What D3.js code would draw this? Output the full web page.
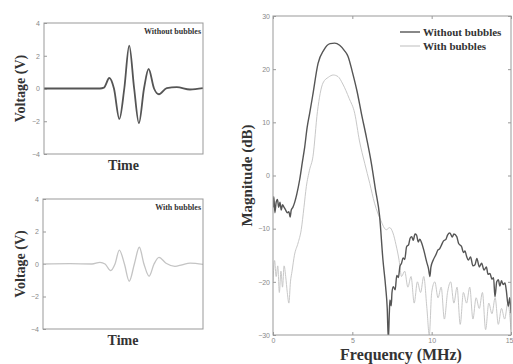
<!DOCTYPE html>
<html>
<head>
<meta charset="utf-8">
<script src="https://cdn.jsdelivr.net/npm/d3@7.9.0/dist/d3.min.js"></script>
<style>
  body { margin: 0; background: #fff; }
  svg { display: block; }
  .axis text { font: 7px 'Liberation Sans', sans-serif; fill: #888; }
  .axis path { display: none; }
  .axis line { stroke: #999; }
  .lbl { font-family: 'Liberation Serif', serif; font-weight: bold; fill: #333; }
</style>
</head>
<body>
<svg id="fig" width="513" height="364"></svg>
<script>
// time-domain pulses (time in arbitrary units 0..100, voltage in V)
const timeTop = [0, 16.4, 35.2, 37.7, 41.1, 44.0, 47.4, 50.5, 53.6, 56.7, 59.7, 62.9, 65.8, 69.2, 72.3, 77.2, 83.5, 91.8, 100];
const voltTop = [0, 0, 0, 0.05, 0.64, 0, -1.86, 0, 2.62, 0, -2.12, 0, 1.19, 0, -0.35, 0.02, 0.08, -0.06, 0.02];

const timeBottom = [0, 16.9, 30.6, 35.6, 38.8, 42.3, 45.0, 47.7, 50.9, 53.9, 57.1, 60.2, 63.1, 66.3, 69.4, 72.5, 76.9, 82.5, 86.9, 91.9, 100];
const voltBottom = [0, 0.02, 0, 0.1, 0, -0.41, 0, 0.86, 0, -1.06, 0, 1.03, 0, -0.75, 0, 0.41, 0.05, -0.14, -0.05, 0.05, -0.02];

const voltTicks = [-4, -2, 0, 2, 4];

// spectra (MHz, dB)
const freqNo = [0, 0.05, 0.12, 0.2, 0.28, 0.36, 0.44, 0.52, 0.6, 0.7, 0.8, 0.9, 1.0, 1.08, 1.15, 1.25, 1.37, 1.5, 1.68, 1.85,
  2.0, 2.15, 2.31, 2.5, 2.84, 3.2, 3.6, 3.89, 4.2, 4.5, 4.73, 5.0, 5.3, 5.57, 5.9, 6.2, 6.45, 6.72, 6.93, 7.1,
  7.2, 7.27, 7.33, 7.37, 7.45, 7.5, 7.58, 7.7, 7.8, 7.9, 8.0, 8.1, 8.2, 8.3, 8.42, 8.55, 8.64, 8.74, 8.84, 8.95,
  9.05, 9.15, 9.25, 9.37, 9.5, 9.6, 9.68, 9.8, 9.89, 9.95, 10.1, 10.25, 10.4, 10.5, 10.63, 10.75, 10.9, 11.0, 11.15, 11.3,
  11.4, 11.58, 11.7, 11.89, 12.0, 12.1, 12.2, 12.31, 12.45, 12.6, 12.73, 12.85, 13.0, 13.15, 13.3, 13.45, 13.55, 13.67, 13.8, 13.9,
  13.99, 14.1, 14.2, 14.3, 14.4, 14.5, 14.62, 14.7, 14.83, 14.92, 15.0];
const magNo = [-6, -4, -7, -5, -4.5, -6, -5, -6.5, -5.5, -6, -6.5, -7, -6.8, -7.8, -6.5, -6, -5, -3.5, -0.8, 2.5,
  5.4, 9, 11.7, 15, 21.1, 23.6, 24.8, 24.9, 24.5, 23.5, 22.4, 19.5, 15.8, 11.7, 7, 2.3, -2.5, -7.7, -15.9, -21,
  -25, -31, -26, -23.4, -24.5, -22, -20.9, -21.5, -18.8, -19.2, -17.1, -16.5, -15.5, -15.8, -13.4, -13, -11.8, -11.5, -12.2, -11,
  -11.2, -12.5, -12, -12.7, -14, -15.2, -16.2, -17.5, -19, -17.3, -15.9, -15, -14, -13.8, -13, -12.3, -12, -11.2, -10.8, -11.6,
  -11, -11.5, -12.8, -13.4, -14.5, -14.2, -15.2, -15.9, -15.3, -17, -16.8, -15.6, -17.2, -16.5, -17.8, -17.2, -18.6, -18.4, -19.5, -19.2,
  -22.8, -20, -19.6, -20.8, -19.8, -20.5, -20.2, -21.5, -24.6, -23, -25.9];

const freqWith = [0, 0.1, 0.2, 0.3, 0.4, 0.5, 0.6, 0.7, 0.8, 0.9, 1.0, 1.1, 1.2, 1.35, 1.58, 1.78, 1.95, 2.1, 2.3, 2.52,
  2.8, 3.15, 3.5, 3.8, 4.1, 4.4, 4.8, 5.15, 5.45, 5.78, 6.1, 6.4, 6.8, 7.14, 7.35, 7.56, 7.75, 7.95, 8.1, 8.3,
  8.5, 8.7, 8.9, 9.1, 9.3, 9.5, 9.7, 9.85, 10.0, 10.2, 10.4, 10.6, 10.8, 11.0, 11.2, 11.4, 11.6, 11.8, 12.0, 12.2,
  12.4, 12.6, 12.8, 13.0, 13.2, 13.4, 13.6, 13.8, 14.0, 14.2, 14.4, 14.6, 14.8, 15.0];
const magWith = [-20, -16, -19, -17, -22, -18, -21, -17, -19, -22, -24, -20, -18, -15, -12.7, -10.2, -6, -2.1, 1, 3.6,
  12, 17.4, 18.5, 18.9, 18.6, 17.2, 14.5, 11.7, 6.5, 2.3, -1.5, -5.2, -8.5, -10.2, -9.8, -10.8, -13, -16, -19, -18,
  -21, -19, -24, -20, -22, -19, -25, -30, -22, -20, -23, -21, -27, -22, -20, -24, -21, -28, -22, -24,
  -21, -27, -23, -25, -22, -29, -24, -26, -23, -28, -25, -27, -24, -29];

const freqTicks = [0, 5, 10, 15];
const magTicks = [-30, -20, -10, 0, 10, 20, 30];

const svg = d3.select('#fig');
const frameColor = '#999';

function frame(g, x0, x1, y0, y1) {
  g.append('rect')
    .attr('x', x0).attr('y', y0)
    .attr('width', x1 - x0).attr('height', y1 - y0)
    .attr('fill', 'none').attr('stroke', frameColor);
}

// --- left panels ---
function pulsePanel(times, volts, box, color, width, title) {
  const g = svg.append('g');
  const x = d3.scaleLinear().domain([0, 100]).range([box.x0, box.x1]);
  const y = d3.scaleLinear().domain([-4, 4]).range([box.y1, box.y0]);

  g.append('g').attr('class', 'axis')
    .attr('transform', `translate(${box.x0},0)`)
    .call(d3.axisLeft(y).tickValues(voltTicks).tickSize(-3).tickPadding(4));

  const line = d3.line()
    .x((d) => x(d[0]))
    .y((d) => y(d[1]))
    .curve(d3.curveMonotoneX);
  g.append('path')
    .attr('d', line(d3.zip(times, volts)))
    .attr('fill', 'none')
    .attr('stroke', color)
    .attr('stroke-width', width);

  frame(g, box.x0, box.x1, box.y0, box.y1);

  g.append('text').attr('class', 'lbl')
    .attr('x', box.x1 - 2).attr('y', box.y0 + 11)
    .attr('text-anchor', 'end').attr('font-size', 8)
    .text(title);

  g.append('text').attr('class', 'lbl')
    .attr('x', (box.x0 + box.x1) / 2).attr('y', box.y1 + 16)
    .attr('text-anchor', 'middle').attr('font-size', 14)
    .text('Time');

  g.append('text').attr('class', 'lbl')
    .attr('transform', `translate(25,${(box.y0 + box.y1) / 2}) rotate(-90)`)
    .attr('text-anchor', 'middle').attr('font-size', 14)
    .text('Voltage (V)');
}

pulsePanel(timeTop, voltTop, { x0: 44, x1: 203, y0: 23, y1: 154 }, '#555', 1.8, 'Without bubbles');
pulsePanel(timeBottom, voltBottom, { x0: 43, x1: 203, y0: 199, y1: 329 }, '#c4c4c4', 1.3, 'With bubbles');

// --- spectrum panel ---
const box = { x0: 273, x1: 511, y0: 16, y1: 335 };
const fx = d3.scaleLinear().domain([0, 15]).range([box.x0, box.x1]);
const my = d3.scaleLinear().domain([-30, 30]).range([box.y1, box.y0]);
const sp = svg.append('g');

sp.append('clipPath').attr('id', 'spclip')
  .append('rect')
  .attr('x', box.x0).attr('y', box.y0)
  .attr('width', box.x1 - box.x0).attr('height', box.y1 - box.y0);

sp.append('g').attr('class', 'axis')
  .attr('transform', `translate(${box.x0},0)`)
  .call(d3.axisLeft(my).tickValues(magTicks).tickSize(-3).tickPadding(3));
sp.append('g').attr('class', 'axis')
  .attr('transform', `translate(${box.x1},0)`)
  .call(d3.axisRight(my).tickValues(magTicks).tickSize(-3).tickFormat(''));
const xAxis = sp.append('g').attr('class', 'axis')
  .attr('transform', `translate(0,${box.y1})`)
  .call(d3.axisBottom(fx).tickValues(freqTicks).tickSize(-3).tickPadding(3));
// keep the last label inside the page
xAxis.selectAll('.tick text').filter((d) => d === 15).attr('text-anchor', 'end').attr('dx', 2);
sp.append('g').attr('class', 'axis')
  .attr('transform', `translate(0,${box.y0})`)
  .call(d3.axisTop(fx).tickValues(freqTicks).tickSize(-3).tickFormat(''));

const specLine = d3.line()
  .x((d) => fx(d[0]))
  .y((d) => my(d[1]))
  .curve(d3.curveMonotoneX);

sp.append('path')
  .attr('clip-path', 'url(#spclip)')
  .attr('d', specLine(d3.zip(freqWith, magWith)))
  .attr('fill', 'none')
  .attr('stroke', '#c8c8c8')
  .attr('stroke-width', 1);

sp.append('path')
  .attr('clip-path', 'url(#spclip)')
  .attr('d', specLine(d3.zip(freqNo, magNo)))
  .attr('fill', 'none')
  .attr('stroke', '#555')
  .attr('stroke-width', 1.4);

frame(sp, box.x0, box.x1, box.y0, box.y1);

// legend
const legend = [
  { label: 'Without bubbles', color: '#555', w: 1.4 },
  { label: 'With bubbles', color: '#c8c8c8', w: 1.2 },
];
legend.forEach((d, i) => {
  const ly = 32 + i * 14;
  sp.append('line')
    .attr('x1', 400).attr('x2', 420).attr('y1', ly).attr('y2', ly)
    .attr('stroke', d.color).attr('stroke-width', d.w);
  sp.append('text').attr('class', 'lbl')
    .attr('x', 423).attr('y', ly + 4)
    .attr('font-size', 11)
    .text(d.label);
});

sp.append('text').attr('class', 'lbl')
  .attr('x', (box.x0 + box.x1) / 2 + 9).attr('y', 360)
  .attr('text-anchor', 'middle').attr('font-size', 16)
  .text('Frequency (MHz)');

sp.append('text').attr('class', 'lbl')
  .attr('transform', `translate(252,${(box.y0 + box.y1) / 2}) rotate(-90)`)
  .attr('text-anchor', 'middle').attr('font-size', 15)
  .text('Magnitude (dB)');
</script>
</body>
</html>
